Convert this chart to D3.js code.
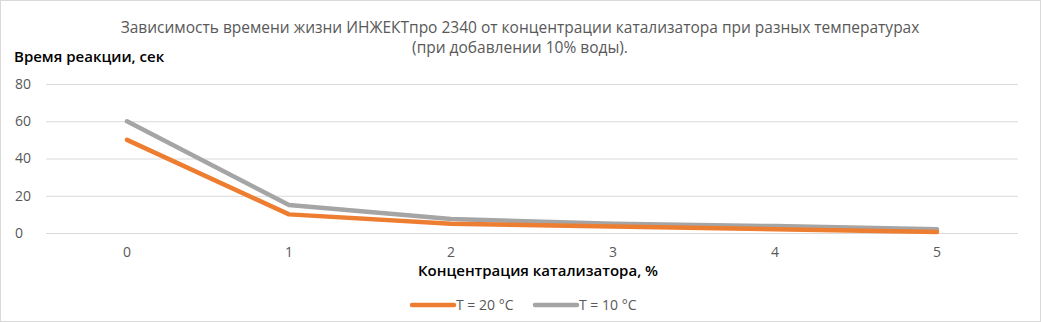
<!DOCTYPE html>
<html>
<head>
<meta charset="utf-8">
<script src="https://cdn.jsdelivr.net/npm/d3@7"></script>
<style>
  body { margin: 0; background: #fff; }
  svg text { font-family: "Open Sans", sans-serif; }
</style>
</head>
<body>
<div id="chart"></div>
<script>
// Chart data
const categories = ["0", "1", "2", "3", "4", "5"];
const seriesNames = ["T = 20 °C", "T = 10 °C"];
const t20 = [50, 10, 5, 3.5, 2, 0.5];
const t10 = [60, 15, 7.5, 5, 3.7, 2];
const yTicks = [0, 20, 40, 60, 80];

const W = 1041, H = 322;
const margin = { top: 84, right: 23, bottom: 89, left: 46 };
const width = W - margin.left - margin.right;
const height = H - margin.top - margin.bottom;

const svg = d3.select("#chart")
    .append("svg")
    .attr("width", W)
    .attr("height", H);

// Outer frame
svg.append("rect")
    .attr("x", 0.5).attr("y", 0.5)
    .attr("width", W - 1).attr("height", H - 1)
    .attr("fill", "#fff")
    .attr("stroke", "#d9d9d9");

const g = svg.append("g")
    .attr("transform", `translate(${margin.left},${margin.top})`);

const x = d3.scaleBand().domain(categories).range([0, width]);
const y = d3.scaleLinear().domain([0, 80]).range([height, 0]);

// Gridlines and y labels
g.append("g")
    .call(d3.axisLeft(y).tickValues(yTicks).tickSize(-width))
    .call(a => a.select(".domain").remove())
    .call(a => a.selectAll("line").attr("stroke", "#d9d9d9"))
    .call(a => a.selectAll("text")
        .attr("fill", "#595959")
        .style("font-size", "14px")
        .attr("text-anchor", "start")
        .attr("x", -31));

// X labels
g.append("g")
    .attr("transform", `translate(0,${height})`)
    .call(d3.axisBottom(x).tickSize(0).tickPadding(14))
    .call(a => a.select(".domain").remove())
    .call(a => a.selectAll("text")
        .attr("fill", "#595959")
        .style("font-size", "14px"));

// Lines
const line = d3.line()
    .x((d, i) => x(categories[i]) + x.bandwidth() / 2)
    .y(d => y(d));

const colors = ["#ED7D31", "#A5A5A5"];
[t10, t20].forEach((s, k) => {
    g.append("path")
        .datum(s)
        .attr("fill", "none")
        .attr("stroke", k === 0 ? colors[1] : colors[0])
        .attr("stroke-width", 4.5)
        .attr("stroke-linecap", "round")
        .attr("stroke-linejoin", "round")
        .attr("d", line);
});

// Title
const title = svg.append("text")
    .attr("x", 520)
    .attr("text-anchor", "middle")
    .attr("fill", "#595959")
    .style("font-size", "15.5px");
title.append("tspan").attr("x", 520).attr("y", 33)
    .text("Зависимость времени жизни ИНЖЕКТпро 2340 от концентрации катализатора  при разных температурах");
title.append("tspan").attr("x", 520).attr("y", 53)
    .text("(при добавлении 10% воды).");

// Axis titles
svg.append("text")
    .attr("x", 14).attr("y", 62)
    .attr("fill", "#000")
    .style("font-size", "15px")
    .style("font-weight", "600")
    .text("Время реакции, сек");

svg.append("text")
    .attr("x", 538).attr("y", 276)
    .attr("text-anchor", "middle")
    .attr("fill", "#000")
    .style("font-size", "15px")
    .style("font-weight", "600")
    .text("Концентрация катализатора, %");

// Legend
const legendX = [412, 535];
seriesNames.forEach((name, i) => {
    const lg = svg.append("g").attr("transform", `translate(${legendX[i]},305)`);
    lg.append("line")
        .attr("x1", 0).attr("x2", 42)
        .attr("stroke", colors[i])
        .attr("stroke-width", 4.5)
        .attr("stroke-linecap", "round");
    lg.append("text")
        .attr("x", 44).attr("y", 5)
        .attr("fill", "#595959")
        .style("font-size", "14px")
        .text(name);
});
</script>
</body>
</html>
